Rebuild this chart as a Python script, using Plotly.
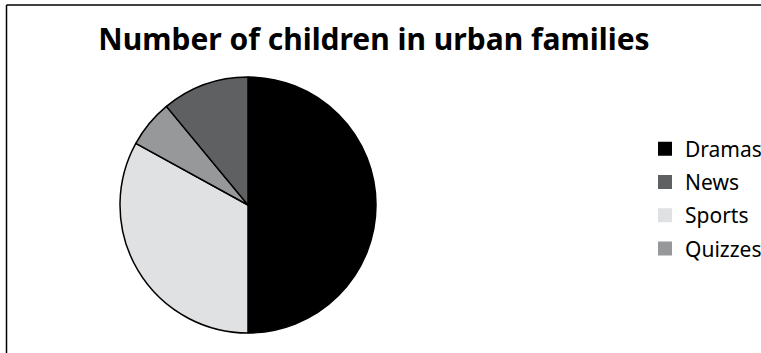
import plotly.graph_objects as go

# slice data, in drawing order (clockwise from 12 o'clock)
labels = ["Dramas", "Sports", "Quizzes", "News"]
values = [50, 33, 6, 11]
colors = ["#000000", "#e0e1e3", "#97989a", "#5f6062"]

# legend order as shown in the reference
legend_labels = ["Dramas", "News", "Sports", "Quizzes"]

W, H = 761, 353
color_of = dict(zip(labels, colors))

fig = go.Figure()

fig.add_trace(go.Pie(
    labels=labels,
    values=values,
    sort=False,
    direction="clockwise",
    rotation=0,
    marker=dict(colors=colors, line=dict(color="black", width=1.5)),
    textinfo="none",
    hoverinfo="label+value",
    showlegend=False,
    domain=dict(x=[(248 - 128) / W, (248 + 128) / W],
                y=[(H - 333) / H, (H - 77) / H]),
))

# dummy traces just to get the legend in the right order
for name in legend_labels:
    fig.add_trace(go.Scatter(
        x=[None], y=[None],
        mode="markers",
        marker=dict(symbol="square", size=14, color=color_of[name],
                    line=dict(width=0)),
        name=name,
        legendgroup=name,
    ))

# frame lines (left and top)
fig.add_shape(type="line", xref="paper", yref="paper",
              x0=6.5 / W, x1=6.5 / W, y0=0, y1=1 - 5 / H,
              line=dict(color="black", width=1.5))
fig.add_shape(type="line", xref="paper", yref="paper",
              x0=6.5 / W, x1=1.0, y0=1 - 5 / H, y1=1 - 5 / H,
              line=dict(color="black", width=1.5))

fig.update_layout(
    width=W, height=H,
    margin=dict(l=0, r=0, t=0, b=0, autoexpand=False),
    paper_bgcolor="white",
    plot_bgcolor="white",
    title=dict(text="<b>Number of children in urban families</b>",
               x=374 / W, xanchor="center",
               y=1 - 39 / H, yanchor="middle",
               font=dict(family="Noto Sans", size=30, color="black")),
    xaxis=dict(visible=False),
    yaxis=dict(visible=False),
    legend=dict(x=645 / W, xanchor="left",
                y=1 - 199 / H, yanchor="middle",
                font=dict(family="Noto Sans", size=21, color="black"),
                itemwidth=30,
                tracegroupgap=3,
                bgcolor="rgba(0,0,0,0)"),
)

fig.write_html("out.html", config={"displayModeBar": False},
               post_script="document.body.style.margin='0px';")
